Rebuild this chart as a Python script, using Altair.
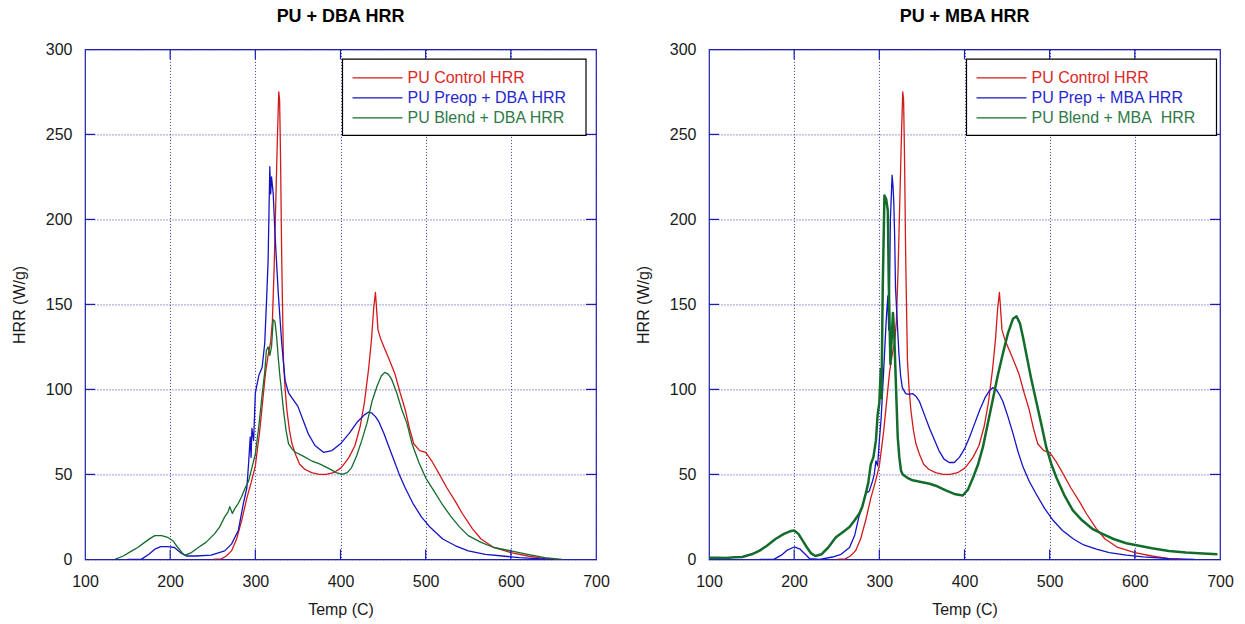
import altair as alt
import pandas as pd

FONT = "Liberation Sans"

x_ticks = [100, 200, 300, 400, 500, 600, 700]
y_ticks = [0, 50, 100, 150, 200, 250, 300]

# (Temp C, HRR W/g)
control = [(250, 0), (260, 0.3), (266, 2), (272, 5), (278, 12), (284, 23), (290, 36), (295, 45),
           (300, 55), (305, 75), (309, 95), (312, 110), (315, 120), (318, 128), (320, 140), (322, 170),
           (324, 210), (326, 250), (327.5, 275), (328.5, 270), (329.5, 240), (331, 176), (333, 117),
           (335, 100), (337, 88), (340, 76), (343, 68), (347, 62), (352, 56), (358, 53), (366, 51),
           (375, 50), (383, 50), (392, 51), (401, 54), (410, 60), (417, 67), (423, 78), (428, 92),
           (433, 112), (436.5, 130), (439, 148), (441, 157), (442, 150), (444, 135), (447, 130),
           (451, 125), (456, 119), (464, 109), (470, 98), (476, 88), (481, 77), (486, 68), (493, 64),
           (500, 63), (507, 58), (515, 51), (525, 42), (535, 34), (543, 27), (555, 18), (565, 12),
           (580, 7), (600, 4), (620, 2), (640, 0.5), (655, 0)]

dba_preop = [(150, 0), (166, 0), (175, 3), (182, 6), (189, 7.5), (197, 7.5), (205, 7), (212, 4),
             (219, 2), (230, 2), (248, 2.5), (264, 5), (272, 9), (280, 17), (286, 33), (290, 42),
             (292, 56), (294, 72), (295, 60), (296, 77), (298, 70), (300, 98), (304, 108), (308, 113),
             (311, 127), (313, 150), (315, 176), (317, 231), (318, 215), (319, 225), (321, 215),
             (323, 192), (327, 156), (331, 127), (335, 105), (339, 98), (343, 95), (350, 90), (356, 82),
             (362, 74), (370, 67), (380, 63), (390, 64), (400, 68), (410, 74), (420, 81), (428, 85),
             (433, 86.7), (437, 86), (441, 84), (445, 81), (451, 74), (457, 66), (463, 58), (469, 50),
             (476, 42), (485, 33), (495, 25), (505, 19), (520, 12), (535, 8), (550, 5), (570, 3),
             (590, 2), (610, 1), (630, 0.5), (650, 0)]

dba_blend = [(135, 0), (145, 2), (155, 5), (162, 7), (170, 10), (177, 12.5), (182, 14), (190, 14),
             (197, 13), (203, 11), (209, 7), (214, 4), (217, 2.4), (225, 4), (233, 7), (242, 10),
             (252, 15), (258, 19), (264, 25), (268, 28), (270, 31), (273, 27), (276, 30), (280, 33),
             (284, 37), (288, 42), (292, 46), (296, 54), (300, 62), (304, 78), (308, 97), (311, 110),
             (313, 123), (315, 125), (317, 120), (319, 125), (321, 141), (323, 140), (325, 131),
             (327, 118), (329, 107), (331, 98), (333, 88), (336, 76), (339, 68), (343, 65), (347, 63),
             (355, 61), (366, 58), (376, 56), (386, 53.5), (395, 51), (402, 50), (408, 51), (413, 54),
             (419, 61), (425, 70), (431, 80), (437, 93), (443, 102), (448, 108), (452, 110), (456, 109),
             (460, 106), (466, 98), (472, 88), (478, 80), (484, 68), (492, 57), (500, 48), (510, 40),
             (520, 32), (530, 25), (540, 19), (550, 14), (565, 10), (580, 7), (600, 5), (620, 3),
             (640, 1), (660, 0)]

mba_prep = [(160, 0), (176, 0), (185, 2.5), (192, 5.5), (200, 7.3), (207, 6), (213, 3), (218, 0.5),
            (230, 0), (245, 1.4), (255, 3), (265, 7), (271, 14), (276, 25), (280, 31), (284, 39),
            (288, 40), (292, 46), (294, 50), (296, 58), (298, 55), (300, 70), (302, 82), (305, 110),
            (308, 140), (310, 155), (311, 135), (312, 160), (313, 200), (315, 226), (316, 220),
            (317, 210), (318, 190), (319, 160), (321, 140), (323, 121), (325, 108), (327, 101),
            (331, 97.5), (335, 97), (339, 97.5), (343, 96), (347, 93), (353, 85), (359, 77), (365, 70),
            (370, 64), (376, 59), (382, 57), (388, 57), (394, 60), (400, 65), (406, 72), (412, 80),
            (418, 88), (424, 95), (429, 99), (433, 101), (437, 100), (441, 97), (445, 93), (451, 84),
            (457, 74), (463, 63), (469, 54), (476, 46), (484, 38.6), (494, 30), (504, 23), (515, 17),
            (528, 12), (540, 8.5), (555, 6), (570, 4), (590, 2.5), (610, 1.5), (640, 0.5), (670, 0)]

mba_blend = [(100, 1), (110, 1), (120, 0.8), (130, 1.2), (139, 1.4), (150, 3), (159, 5), (168, 8),
             (178, 12), (188, 15), (195, 16.5), (200, 17), (205, 15), (210, 11), (215, 7), (220, 3.5),
             (225, 2), (232, 3), (240, 7), (249, 13), (257, 16), (265, 19), (271, 23), (276.5, 27),
             (280, 31), (284, 38.6), (287, 45), (290, 56), (293, 60), (296, 70), (298, 85), (300, 92),
             (301.7, 112), (302.5, 95), (304, 160), (306, 214), (308, 212), (310, 205), (311, 165),
             (312, 140), (313, 115), (314, 125), (316, 145), (317.6, 131), (319.6, 101), (321.6, 72),
             (323.5, 60), (325.5, 52), (327.5, 50), (333, 48), (339, 46.5), (349, 45.5), (359, 44.5),
             (368, 43), (378, 40.6), (388, 38.5), (398, 37.6), (404, 41), (410, 48), (416, 56),
             (421.6, 66), (427, 79), (433, 93.5), (439, 108), (445, 121), (451, 133), (457, 141.6),
             (461, 143), (465, 139), (469, 130), (472.5, 121), (478, 107), (484, 93.5), (490, 80),
             (496, 66), (502, 56), (508, 48), (517, 38), (527, 29), (538, 23), (550, 18), (562, 15),
             (575, 12), (590, 9.5), (605, 8), (620, 6.5), (640, 5), (660, 4), (680, 3.5), (697, 3)]

dba_names = ["PU Control HRR", "PU Preop + DBA HRR", "PU Blend + DBA HRR"]
mba_names = ["PU Control HRR", "PU Prep + MBA HRR", "PU Blend + MBA\u00a0 HRR"]

line_colors = ["#d21a1a", "#1414c4", "#146c2c"]
label_colors = ["#dc2828", "#2828d0", "#2e7a48"]

FRAME = "#1a1ab4"
GRID = "#3c3ca8"
W, H = 511, 510
TICK = 10


def panel(title, names, series, blend_width, legend_right):
    rows = []
    for name, pts in zip(names, series):
        for t, h in pts:
            rows.append({"series": name, "T": t, "H": h})
    df = pd.DataFrame(rows)

    x_enc = alt.X("T:Q", scale=alt.Scale(domain=[100, 700], nice=False, zero=False),
                  axis=alt.Axis(values=x_ticks, title="Temp (C)", format="d",
                                labelPadding=14, titlePadding=12))
    y_enc = alt.Y("H:Q", scale=alt.Scale(domain=[0, 300], nice=False),
                  axis=alt.Axis(values=y_ticks, title="HRR (W/g)", format="d",
                                labelPadding=13, titlePadding=18))

    lines = alt.Chart(df).mark_line(clip=True, strokeJoin="round").encode(
        x=x_enc, y=y_enc,
        color=alt.Color("series:N", scale=alt.Scale(domain=names, range=line_colors), legend=None),
        strokeWidth=alt.condition(f"datum.series === '{names[2]}'", alt.value(blend_width), alt.value(1.3)),
    )

    tx = pd.DataFrame({"T": x_ticks[1:-1]})
    ty = pd.DataFrame({"H": y_ticks[1:-1]})
    tick_bottom = alt.Chart(tx).mark_rule(color=FRAME, strokeWidth=1.2).encode(
        x=x_enc, y=alt.value(H), y2=alt.value(H - TICK))
    tick_top = alt.Chart(tx).mark_rule(color=FRAME, strokeWidth=1.2).encode(
        x=x_enc, y=alt.value(0), y2=alt.value(TICK))
    tick_left = alt.Chart(ty).mark_rule(color=FRAME, strokeWidth=1.2).encode(
        y=y_enc, x=alt.value(0), x2=alt.value(TICK))
    tick_right = alt.Chart(ty).mark_rule(color=FRAME, strokeWidth=1.2).encode(
        y=y_enc, x=alt.value(W), x2=alt.value(W - TICK))

    box = alt.Chart(pd.DataFrame({"k": [0]})).mark_rect(
        fill="white", stroke="black", strokeWidth=1.2).encode(
        x=alt.value(257.5), x2=alt.value(legend_right), y=alt.value(9.7), y2=alt.value(86))

    entries = []
    for i, (name, lc, tc) in enumerate(zip(names, line_colors, label_colors)):
        yy = 28.4 + 20 * i
        d = pd.DataFrame({"label": [name]})
        entries.append(alt.Chart(d).mark_rule(color=lc, strokeWidth=1.2).encode(
            x=alt.value(267.5), x2=alt.value(317.5), y=alt.value(yy)))
        entries.append(alt.Chart(d).mark_text(
            align="left", baseline="middle", font=FONT, fontSize=16, color=tc).encode(
            x=alt.value(322.5), y=alt.value(yy), text="label:N"))

    return alt.layer(lines, tick_bottom, tick_top, tick_left, tick_right, box, *entries).properties(
        width=W, height=H,
        title=alt.TitleParams(title, font=FONT, fontSize=18, fontWeight="bold", color="black",
                              anchor="middle", offset=15),
    )


left = panel("PU + DBA HRR", dba_names, [control, dba_preop, dba_blend], 1.3, 501)
right = panel("PU + MBA HRR", mba_names, [control, mba_prep, mba_blend], 2.5, 507.5)

chart = alt.hconcat(left, right, spacing=24).resolve_scale(color="independent").properties(
    padding={"left": 10, "top": 7.4, "right": 5, "bottom": 5},
    background="white",
).configure_view(
    stroke=FRAME, strokeWidth=1.2,
).configure_axis(
    labelFont=FONT, labelFontSize=16, labelColor="#1a1a1a",
    titleFont=FONT, titleFontSize=16, titleFontWeight="normal", titleColor="#1a1a1a",
    grid=True, gridColor=GRID, gridDash=[1, 2], gridWidth=1, gridOpacity=1,
    domain=False, ticks=False, tickSize=0, labelFlush=False, labelOverlap=False,
)

chart.save("out.html", embed_options={"renderer": "svg", "actions": False})
